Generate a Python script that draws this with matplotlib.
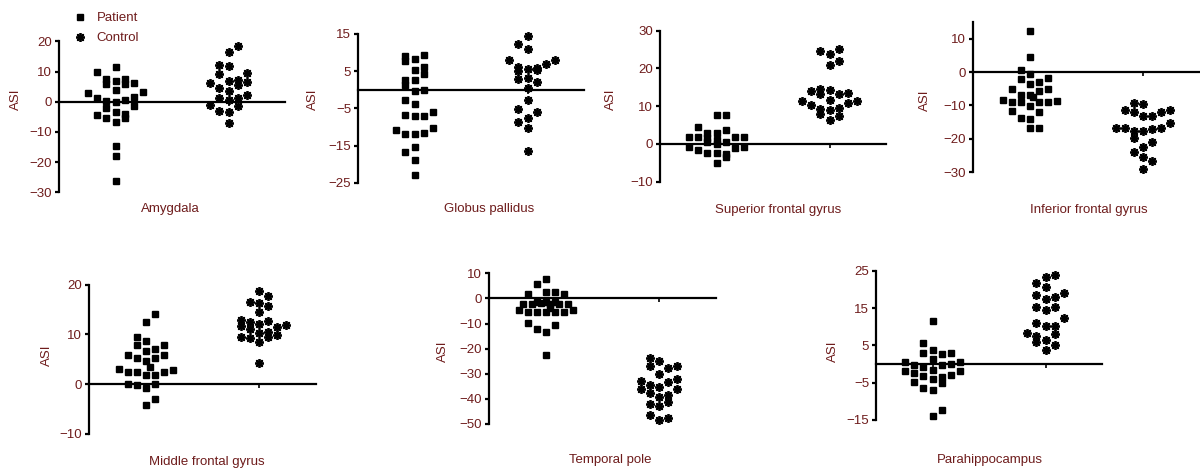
import matplotlib
matplotlib.use('Agg')
import matplotlib.pyplot as plt

# Cài đặt chung
W, H = 1200, 472
RED = '#6e1c1c'
plt.rcParams['font.family'] = ['Liberation Sans', 'DejaVu Sans']

regions = ['Amygdala', 'Globus pallidus', 'Superior frontal gyrus', 'Inferior frontal gyrus',
           'Middle frontal gyrus', 'Temporal pole', 'Parahippocampus']
groups = ['Patient', 'Control']

# Amygdala
amy_pat_col = [0, -2, -1, -1, 0, 1, 1, 2, -3, 0, 3, -2, 2, -1, 0, 1, -1, 2, -2, -1, 0, 1, 1, 0, 0, 0, 0]
amy_pat_val = [11.5, 9.7, 7.5, 5.8, 7.0, 7.5, 6.0, 6.2, 2.9, 3.8, 3.1, 1.3, 1.5, 0.2, 0.0, 0.7,
               -2.0, -1.3, -4.4, -5.5, -3.3, -4.0, -5.3, -6.6, -14.8, -17.9, -26.3]
amy_con_col = [1, 0, -1, 0, 2, -1, -2, 0, 1, 1, 2, -1, 0, 2, -1, 0, 1, -2, 1, -1, 0, 0]
amy_con_val = [18.3, 16.3, 12.1, 11.7, 9.5, 9.1, 6.2, 6.8, 7.1, 5.5, 6.4, 4.6, 3.5, 2.2, 1.3,
               0.4, 1.1, -1.1, -1.5, -3.1, -3.3, -7.1]

# Globus pallidus
gp_pat_col = [-1, -1, 0, 1, 0, 1, 1, -1, -1, 0, 0, 1, -1, 0, -1, 0, 1, 2, -2, -1, 0, 1, 2, 0, -1, 0, 0]
gp_pat_val = [9.0, 7.7, 8.4, 9.3, 5.4, 6.1, 4.3, 2.7, 1.3, 2.5, -0.4, 0.0, -2.7, -3.8, -6.8, -7.0,
              -7.0, -5.9, -10.8, -11.8, -12.0, -11.7, -10.2, -15.4, -16.7, -19.0, -23.0]
gp_con_col = [0, -1, 0, -2, 3, 2, -1, -1, 0, 1, 1, -1, 0, 1, 0, 0, -1, 1, 0, -1, 0, 0]
gp_con_val = [14.5, 12.4, 10.9, 7.9, 8.1, 7.0, 6.1, 5.0, 5.7, 5.9, 5.2, 3.0, 3.2, 2.0, 0.5,
              -2.7, -5.2, -6.1, -7.5, -8.8, -10.2, -16.5]

# Superior frontal gyrus
sfg_pat_col = [0, 1, -2, -1, 0, 1, -3, -2, -1, 0, 2, 3, -1, 0, 1, -3, -2, 2, 3, -1, 0, 1, 1, 0]
sfg_pat_val = [7.6, 7.8, 4.6, 3.0, 2.8, 3.7, 1.9, 1.8, 1.6, 1.1, 1.8, 1.8, 0.4, 0.0, 0.5, -0.7,
               -1.6, -1.2, -0.9, -2.5, -2.5, -2.6, -3.5, -5.1]
sfg_con_col = [1, -1, 0, 1, 0, -2, -1, -1, 0, 2, 1, -3, 0, 3, -2, 2, -1, -1, 0, 1, 1, 0]
sfg_con_val = [25.2, 24.5, 23.8, 22.1, 20.8, 14.1, 14.6, 13.2, 14.3, 13.6, 13.1, 11.3, 11.7, 11.3,
               10.2, 10.8, 9.2, 7.9, 9.0, 9.4, 7.4, 6.4]

# Inferior frontal gyrus
ifg_pat_col = [0, 0, -1, 0, -1, 2, 0, 1, -2, 1, 2, -1, 0, 0.4, -3, -2, -1, 1, 2, 3, 0, -2, 1, -1, 0, 0, 1]
ifg_pat_val = [12.4, 4.4, 0.6, -0.6, -2.0, -1.8, -3.6, -3.0, -5.2, -5.6, -5.0, -6.8, -6.8, -7.6,
               -8.4, -9.0, -9.0, -9.0, -9.0, -8.8, -10.2, -11.6, -11.8, -13.6, -14.0, -16.6, -16.6]
ifg_con_col = [-1, 0, -2, -1, 0, 1, 2, 3, 3, -3, -2, -1, 0, 1, 2, -1, 1, 0, -1, 0, 1, 0]
ifg_con_val = [-9.2, -9.6, -11.4, -12.0, -13.2, -13.0, -12.0, -11.4, -15.2, -16.6, -16.6, -17.5,
               -17.5, -17.0, -16.6, -19.7, -20.9, -22.3, -23.9, -25.5, -26.5, -28.9]

# Middle frontal gyrus
mfg_pat_col = [1, 0, -1, 0, -1, 2, 1, 0, -2, 2, -1, 1, 0, 0.5, -3, 3, -2, -1, 2, 0, 1, -2, -1, 1, 0, 1, 0]
mfg_pat_val = [14.1, 12.5, 9.5, 8.6, 7.8, 7.9, 7.0, 6.6, 5.8, 5.9, 5.2, 5.2, 4.7, 3.5, 3.1, 2.9,
               2.5, 2.4, 2.4, 1.9, 1.9, 0.1, -0.1, 0.0, -0.8, -2.9, -4.2]
mfg_con_col = [0, 1, -1, 0, 1, 0, -2, -2, -1, 0, 1, 3, 2, -1, 0, 1, 1, 2, -2, -1, 0, 0]
mfg_con_val = [18.8, 17.8, 16.5, 16.3, 15.7, 14.6, 12.9, 11.8, 12.5, 12.2, 12.7, 11.9, 11.4, 11.0,
               10.3, 10.4, 9.5, 9.9, 9.5, 9.2, 8.4, 4.2]

# Temporal pole
tp_pat_col = [0, -1, 0, 1, -2, 2, -3, -2.5, -2, -1.5, -1, -1, -0.5, 0, 0.5, 1, 1.5, 2.5, 0, 1, 2, 3,
              0.5, -2, -1, 1, 0, 0]
tp_pat_val = [7.7, 5.6, 2.4, 2.7, 1.6, 1.6, -4.5, -2.1, -5.3, -2.1, -1.3, -5.6, -1.9, -1.6, -2.1,
              -1.3, -2.4, -2.4, -5.6, -5.6, -5.3, -4.8, -3.7, -9.8, -12.0, -10.4, -13.3, -22.6]
tp_con_col = [-1, 0, -1, 1, 2, 0, 2, -2, 1, -2, -1, 0, 2, -1, 0, 1, -1, 0, 1, -1, 0, 1]
tp_con_val = [-23.9, -25.0, -27.1, -27.6, -26.8, -30.0, -31.9, -32.9, -33.2, -35.9, -34.3, -35.3,
              -36.1, -37.7, -39.3, -38.5, -42.0, -43.0, -41.4, -46.5, -48.6, -47.8]

# Parahippocampus
ph_pat_col = [0, -1, -1, 0, 1, 2, 0, -3, -2, 1, 2, 3, -1, -3, -2, 0, 3, -1, 2, 0, 1, 1, -2, -1, 0, 1, 0]
ph_pat_val = [11.6, 5.7, 2.9, 3.8, 2.7, 2.9, 1.3, 0.5, -0.2, -0.2, 0.0, 0.5, -0.9, -1.8, -2.5,
              -1.6, -2.0, -3.2, -3.0, -4.1, -3.4, -5.0, -4.8, -6.3, -7.0, -12.3, -13.8]
ph_con_col = [1, 0, -1, 0, 2, -1, 0, 1, -1, 0, 1, 2, -1, 0, 1, -2, 1, -1, -1, 0, 1, 0]
ph_con_val = [23.9, 23.2, 21.6, 20.7, 19.1, 18.4, 17.5, 18.0, 15.2, 14.6, 15.2, 12.3, 11.1, 10.2,
              10.2, 8.2, 8.0, 7.5, 5.9, 6.4, 5.0, 3.8]

yticks_list = [[20, 10, 0, -10, -20, -30], [15, 5, -5, -15, -25], [30, 20, 10, 0, -10],
               [10, 0, -10, -20, -30], [20, 10, 0, -10], [10, 0, -10, -20, -30, -40, -50],
               [25, 15, 5, -5, -15]]
ylims = [(-30, 20), (-25, 15), (-10, 30), (-30, 15), (-10, 20), (-50, 10), (-15, 25)]

pat_cols = [amy_pat_col, gp_pat_col, sfg_pat_col, ifg_pat_col, mfg_pat_col, tp_pat_col, ph_pat_col]
pat_vals = [amy_pat_val, gp_pat_val, sfg_pat_val, ifg_pat_val, mfg_pat_val, tp_pat_val, ph_pat_val]
con_cols = [amy_con_col, gp_con_col, sfg_con_col, ifg_con_col, mfg_con_col, tp_con_col, ph_con_col]
con_vals = [amy_con_val, gp_con_val, sfg_con_val, ifg_con_val, mfg_con_val, tp_con_val, ph_con_val]

# Bố cục (pixel): left, right, y pixel của ymax, y pixel của ymin
boxes = [(59, 285, 41.3, 192.3), (358, 584, 34.0, 182.7), (660, 886, 30.7, 181.7),
         (973, 1200, 22.0, 172.3), (89, 316, 284.7, 434.0), (489, 716, 273.3, 424.0),
         (876, 1102, 270.7, 420.0)]
# vị trí tên vùng và chữ ASI
name_pos = [(170, 209), (489, 209), (778, 210), (1089, 210), (207, 462), (610, 460), (990, 460)]
asi_pos = [(16, 99), (313, 99), (611, 99), (925, 100), (47, 355), (443, 351), (833, 351)]

STEP = 0.08  # khoảng cách giữa các cột điểm (theo đơn vị trục x)

fig = plt.figure(figsize=(W / 100, H / 100), dpi=100)

handles = []
for k in range(len(regions)):
    l, r, t, b = boxes[k]
    ax = fig.add_axes([l / W, 1 - b / H, (r - l) / W, (b - t) / H])
    ax.set_xlim(0.5, 2.5)
    ax.set_ylim(*ylims[k])

    px = [1 + c * STEP for c in pat_cols[k]]
    cx = [2 + c * STEP for c in con_cols[k]]
    h1, = ax.plot(px, pat_vals[k], linestyle='none', marker='s', markersize=4.6,
                  color='black', clip_on=False, zorder=3)
    h2, = ax.plot(cx, con_vals[k], linestyle='none', marker=(8, 2, 0), markersize=6.4,
                  markeredgewidth=1.3, color='black', clip_on=False, zorder=3)
    if k == 0:
        handles = [h1, h2]

    for s in ['top', 'right']:
        ax.spines[s].set_visible(False)
    ax.spines['bottom'].set_position(('data', 0))
    ax.spines['left'].set_linewidth(1.6)
    ax.spines['bottom'].set_linewidth(1.6)
    ax.set_yticks(yticks_list[k])
    ax.set_yticklabels([str(v).replace('-', '\u2212') for v in yticks_list[k]])
    ax.set_xticks([1, 2])
    ax.set_xticklabels([])
    ax.tick_params(axis='y', direction='out', length=3, width=1.6, labelsize=9.5,
                   labelcolor=RED, pad=2)
    ax.tick_params(axis='x', direction='out', length=3, width=1.2)
    ax.patch.set_visible(False)

    fig.text(name_pos[k][0] / W, 1 - name_pos[k][1] / H, regions[k], color=RED,
             fontsize=9.5, ha='center', va='center')
    fig.text(asi_pos[k][0] / W, 1 - asi_pos[k][1] / H, 'ASI', color=RED,
             fontsize=9.5, ha='center', va='center', rotation=90)

fig.legend(handles, groups, loc='upper left', bbox_to_anchor=(75 / W, 1 - 12 / H),
           frameon=False, handlelength=0.8, handletextpad=0.85, labelspacing=0.6,
           fontsize=9.5, labelcolor=RED, borderpad=0, borderaxespad=0)

fig.savefig('out.png', dpi=100)
